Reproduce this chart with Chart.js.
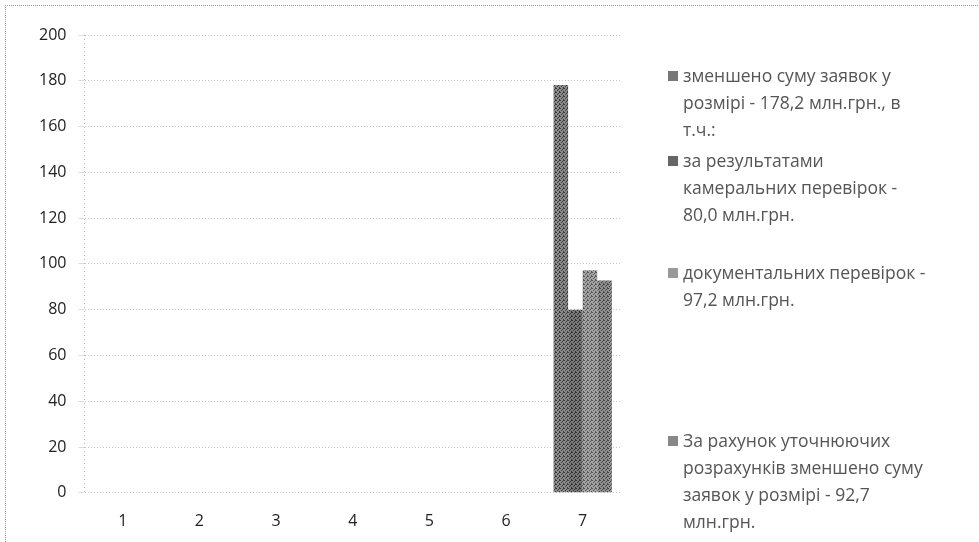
<!DOCTYPE html>
<html>
<head>
<meta charset="utf-8">
<script src="https://cdn.jsdelivr.net/npm/chart.js@4.4.1/dist/chart.umd.min.js"></script>
<style>
  body { margin: 0; background: #fff; }
  #wrap { position: relative; width: 979px; height: 542px; overflow: hidden; }
  #frame { position: absolute; left: 5px; top: 5px; width: 1000px; height: 600px;
           border-left: 1px dotted #999; border-top: 1px dotted #999; }
  .leg { position: absolute; left: 668px; font-family: "Open Sans", sans-serif;
         font-size: 17.5px; line-height: 27px; color: #555; padding-left: 15px;
         white-space: nowrap; }
  .leg i { position: absolute; left: 0; top: 9px; width: 10px; height: 10px; }
</style>
</head>
<body>
<div id="wrap">
  <div id="frame"></div>
  <canvas id="chart" width="979" height="542"></canvas>
  <div id="legend"></div>
</div>
<script>
// категорії та значення
const categories = ["1", "2", "3", "4", "5", "6", "7"];
const seriesNames = [
  ["зменшено суму заявок у", "розмірі - 178,2 млн.грн., в", "т.ч.:"],
  ["за результатами", "камеральних перевірок  -", "80,0 млн.грн."],
  ["документальних перевірок -", "97,2 млн.грн."],
  ["За рахунок уточнюючих", "розрахунків зменшено суму", "заявок у розмірі - 92,7", "млн.грн."]
];
const totalReduced = [0, 0, 0, 0, 0, 0, 178.2];
const cameral = [0, 0, 0, 0, 0, 0, 80.0];
const documentary = [0, 0, 0, 0, 0, 0, 97.2];
const clarifying = [0, 0, 0, 0, 0, 0, 92.7];
const yTicks = [0, 20, 40, 60, 80, 100, 120, 140, 160, 180, 200];

// сіра "крапчаста" заливка
function dots(a, b) {
  const c = document.createElement("canvas");
  c.width = 4; c.height = 4;
  const g = c.getContext("2d");
  g.fillStyle = a; g.fillRect(0, 0, 4, 4);
  g.fillStyle = b;
  [[0,0],[2,1],[1,2],[3,3],[3,0]].forEach(p => g.fillRect(p[0], p[1], 1, 1));
  return g.createPattern(c, "repeat");
}
const fills = [dots("#8c8c8c", "#3a3a3a"), dots("#7a7a7a", "#2e2e2e"),
               dots("#a5a5a5", "#555555"), dots("#909090", "#444444")];
const swatch = ["#777", "#666", "#999", "#888"];
const legendTops = [62, 147, 259, 427];

const ctx = document.getElementById("chart");
new Chart(ctx, {
  type: "bar",
  data: {
    labels: categories,
    datasets: [totalReduced, cameral, documentary, clarifying].map((d, i) => ({
      label: seriesNames[i].join(" "),
      data: d,
      backgroundColor: fills[i],
      borderWidth: 0,
      barPercentage: 1,
      categoryPercentage: 0.76
    }))
  },
  options: {
    responsive: false,
    animation: false,
    layout: { padding: { left: 27, top: 35, right: 358, bottom: 0 } },
    plugins: { legend: { display: false }, tooltip: { enabled: false } },
    scales: {
      x: {
        grid: { display: false },
        border: { display: false },
        ticks: { color: "#222", font: { family: "Open Sans", size: 16 }, padding: 11 }
      },
      y: {
        min: 0, max: 200,
        afterBuildTicks: s => { s.ticks = yTicks.map(v => ({ value: v })); },
        grid: { color: "#c8c8c8", lineWidth: 1, drawTicks: true, tickLength: 6, tickColor: "#ddd" },
        border: { display: true, color: "#bbb", dash: [1, 2] },
        ticks: { color: "#222", font: { family: "Open Sans", size: 16 }, padding: 12 }
      }
    }
  },
  plugins: [{
    id: "dottedGrid",
    beforeDraw(chart) {
      chart.ctx.setLineDash([1, 3]);
    },
    afterDraw(chart) {
      chart.ctx.setLineDash([]);
    }
  }]
});

// легенда праворуч
const leg = document.getElementById("legend");
seriesNames.forEach((lines, i) => {
  const d = document.createElement("div");
  d.className = "leg";
  d.style.top = legendTops[i] + "px";
  d.innerHTML = '<i style="background:' + swatch[i] + '"></i>' + lines.join("<br>");
  leg.appendChild(d);
});
</script>
</body>
</html>
